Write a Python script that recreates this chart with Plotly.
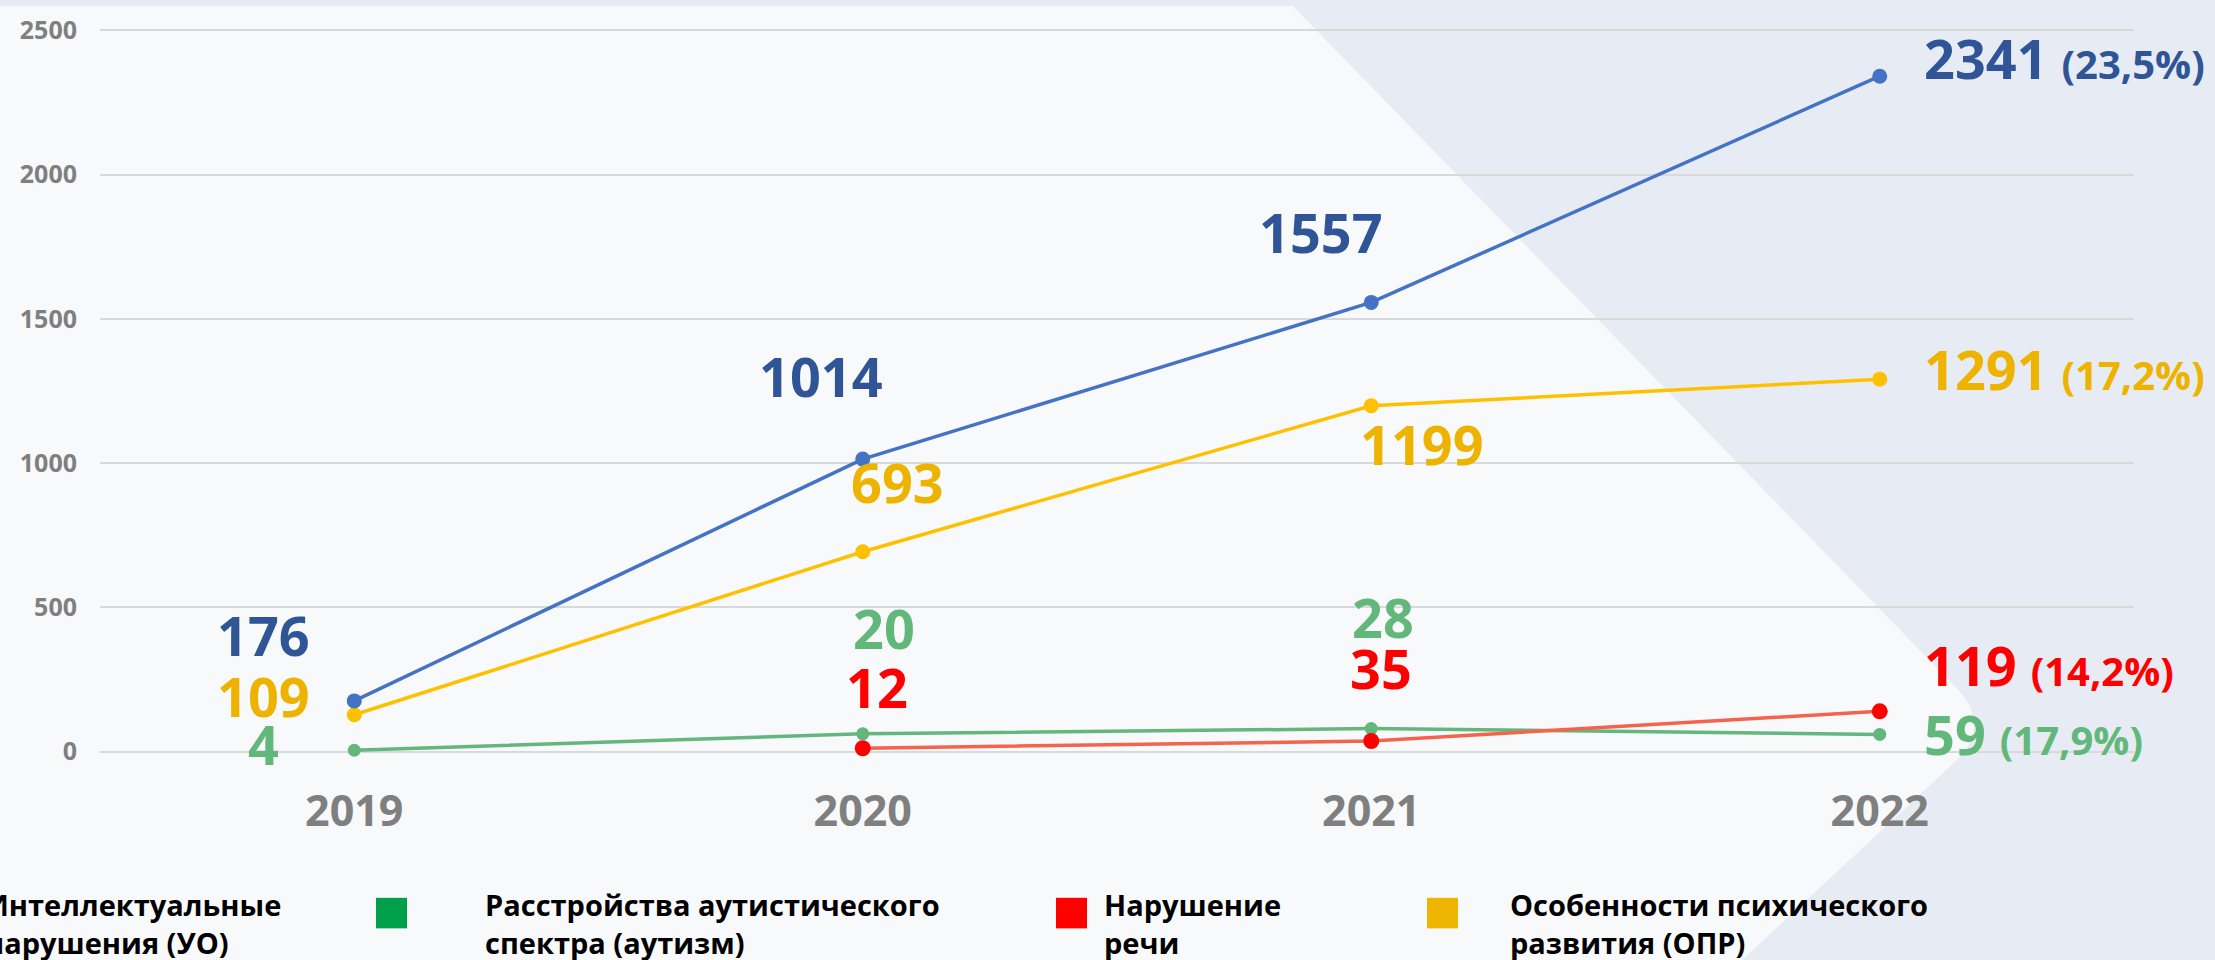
import plotly.graph_objects as go

# ---------------- data ----------------
years = ["2019", "2020", "2021", "2022"]

series_names = [
    "Интеллектуальные нарушения (УО)",
    "Расстройства аутистического спектра (аутизм)",
    "Нарушение речи",
    "Особенности психического развития (ОПР)",
]

# plotted values
uo_values = [176, 1014, 1557, 2341]
autism_values = [5, 62, 80, 60]
speech_values = [None, 12, 37, 140]
opr_values = [128, 693, 1199, 1291]

# label texts as printed on the chart
uo_labels = ["176", "1014", "1557", "2341"]
autism_labels = ["4", "20", "28", "59"]
speech_labels = [None, "12", "35", "119"]
opr_labels = ["109", "693", "1199", "1291"]

share_uo = "(23,5%)"
share_autism = "(17,9%)"
share_speech = "(14,2%)"
share_opr = "(17,2%)"

y_ticks = [0, 500, 1000, 1500, 2000, 2500]

# ---------------- layout geometry ----------------
W, H = 2215, 960
ML, MR, MT, MB = 100, 81, 17, 206
PW = W - ML - MR
PH = H - MT - MB
FONT = "Open Sans"


def px(x):
    return (x - ML) / PW


def py(y):
    return (H - MB - y) / PH


# colors
C_BLUE_LINE, C_BLUE_TXT = "#4472C4", "#2F5597"
C_YEL_LINE, C_YEL_TXT = "#FFC000", "#EDB300"
C_GRN_LINE, C_GRN_TXT = "#63B77C", "#62B77B"
C_RED_LINE, C_RED_MK, C_RED_TXT = "#F4634B", "#FF0000", "#FF0000"

fig = go.Figure()


def add_series(name, values, line_color, marker_color, lw, ms):
    fig.add_trace(go.Scatter(
        x=years, y=values, name=name, mode="lines+markers",
        line=dict(color=line_color, width=lw),
        marker=dict(color=marker_color, size=ms),
        connectgaps=False, cliponaxis=False, showlegend=False,
    ))


add_series(series_names[1], autism_values, C_GRN_LINE, C_GRN_LINE, 3.5, 13)
add_series(series_names[2], speech_values, C_RED_LINE, C_RED_MK, 3.5, 16)
add_series(series_names[3], opr_values, C_YEL_LINE, C_YEL_LINE, 3.5, 15)
add_series(series_names[0], uo_values, C_BLUE_LINE, C_BLUE_LINE, 3.5, 15)

annotations = []


def label(i, y, text, color, xshift, yshift, xanchor="center", share=None):
    t = text
    if share:
        t = text + " <span style='font-size:40px'>" + share + "</span>"
    annotations.append(dict(
        x=i, y=y, xref="x", yref="y", text=t, showarrow=False,
        xanchor=xanchor, yanchor="middle", xshift=xshift, yshift=yshift,
        font=dict(family=FONT, size=54, color=color, weight=700),
    ))


# label offsets (pixels) relative to each point
uo_off = [(-91, 66), (-42, 83), (-50, 70), (42, 18)]
opr_off = [(-91, 19), (35, 70), (51, -38), (42, 10)]
aut_off = [(-91, 6), (21, 106), (12, 112), (42, 0)]
sp_off = [None, (14, 61), (10, 73), (42, 46)]

for i, yr in enumerate(years):
    last = i == len(years) - 1
    xa = "left" if last else "center"
    label(i, uo_values[i], uo_labels[i], C_BLUE_TXT, *uo_off[i], xanchor=xa,
          share=share_uo if last else None)
    label(i, opr_values[i], opr_labels[i], C_YEL_TXT, *opr_off[i], xanchor=xa,
          share=share_opr if last else None)
    label(i, autism_values[i], autism_labels[i], C_GRN_TXT, *aut_off[i], xanchor=xa,
          share=share_autism if last else None)
    if speech_values[i] is not None:
        label(i, speech_values[i], speech_labels[i], C_RED_TXT, *sp_off[i], xanchor=xa,
              share=share_speech if last else None)

# ---------------- custom legend ----------------
legend_items = [
    (series_names[0], "#4472C4", -60, -17),
    (series_names[1], "#00A04A", 376, 483),
    (series_names[2], "#FF0000", 1056, 1102),
    (series_names[3], "#EDB500", 1427, 1508),
]
legend_text = [
    "Интеллектуальные<br>нарушения (УО)",
    "Расстройства аутистического<br>спектра (аутизм)",
    "Нарушение<br>речи",
    "Особенности психического<br>развития (ОПР)",
]

shapes = []
# background light panel on the left
path = ("M {x0},{y0} L {x1},{y0} L {x2},{y2} Q {x3},{y3} {x4},{y4} L {x5},{y5} L {x0},{y5} Z"
        .format(x0=px(-20), y0=py(-5), x1=px(1293), x2=px(1948), y2=py(678),
                x3=px(1996), y3=py(722), x4=px(1955), y4=py(762),
                x5=px(1740), y5=py(965)))
shapes.append(dict(type="path", path=path, xref="paper", yref="paper",
                   fillcolor="#F8F9FB", line=dict(width=0), layer="below"))

for (name, col, sq_x, tx), txt in zip(legend_items, legend_text):
    shapes.append(dict(type="rect", xref="paper", yref="paper",
                       x0=px(sq_x), x1=px(sq_x + 31), y0=py(931), y1=py(900),
                       fillcolor=col, line=dict(width=0)))
    annotations.append(dict(
        x=px(tx), y=py(926), xref="paper", yref="paper", text=txt,
        showarrow=False, xanchor="left", yanchor="middle", align="left",
        font=dict(family=FONT, size=29, color="#000000", weight=700),
    ))

fig.update_layout(
    width=W, height=H,
    margin=dict(l=ML, r=MR, t=MT, b=MB, pad=0),
    paper_bgcolor="#E7ECF4",
    plot_bgcolor="rgba(0,0,0,0)",
    shapes=shapes,
    annotations=annotations,
    showlegend=False,
    xaxis=dict(
        type="category", categoryorder="array", categoryarray=years,
        range=[-0.5, 3.5], showgrid=False, zeroline=False, showline=False,
        ticks="", ticklabelstandoff=28,
        tickfont=dict(family=FONT, size=43, color="#7F7F7F", weight=700),
    ),
    yaxis=dict(
        range=[-8, 2508], tickvals=y_ticks, showgrid=True, gridcolor="#D9D9D9",
        gridwidth=2, zeroline=False, showline=False, ticks="",
        ticklabelstandoff=22,
        tickfont=dict(family=FONT, size=25, color="#7F7F7F", weight=700),
    ),
)

fig.write_html(
    "out.html",
    config={"displayModeBar": False},
    post_script="document.body.style.margin='0';document.body.style.overflow='hidden';",
)
